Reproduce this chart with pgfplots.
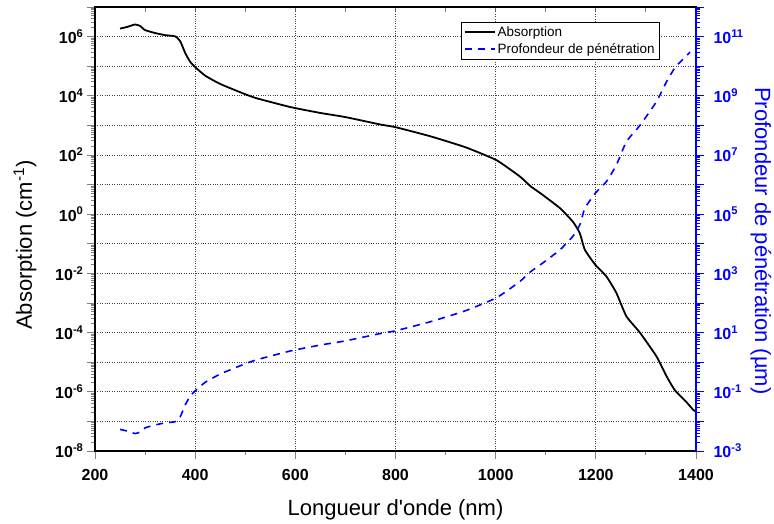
\documentclass[border=0pt]{standalone}
\usepackage{fontspec}
\setmainfont{Liberation Sans}
\usepackage{pgfplots}
\usepackage{pgfplotstable}
\pgfplotsset{compat=1.18}
\pgfplotstableread{
x y
250 1.86e6
265 2.14e6
280 2.57e6
290 2.29e6
300 1.66e6
320 1.32e6
340 1.12e6
360 1.02e6
370 7.08e5
380 2.82e5
390 1.41e5
400 9.33e4
420 4.79e4
450 2.51e4
490 1.32e4
520 8.51e3
590 4.17e3
650 2.63e3
700 1.91e3
770 1.07e3
800 871
870 427
940 182
1000 69.2
1030 31.6
1050 17.8
1070 8.71
1090 5.01
1128 1.62
1154 0.562
1168 0.229
1178 0.0631
1199 0.0195
1221 7.94e-3
1241 2.19e-3
1261 3.55e-4
1288 1.0e-4
1321 1.58e-5
1341 3.39e-6
1358 1.12e-6
1381 4.47e-7
1395 2.40e-7
1400 2.19e-7
}\absdata
\pgfplotstableread{
x y
250 5.37e-3
265 4.68e-3
280 3.89e-3
290 4.37e-3
300 6.03e-3
320 7.59e-3
340 8.91e-3
360 9.77e-3
370 1.41e-2
380 3.55e-2
390 7.08e-2
400 0.107
420 0.209
450 0.398
490 0.759
520 1.17
590 2.40
650 3.80
700 5.25
770 9.33
800 11.5
870 23.4
940 55.0
1000 145
1030 316
1050 562
1070 1.15e3
1090 2.00e3
1128 6.17e3
1154 1.78e4
1168 4.37e4
1178 1.58e5
1199 5.13e5
1221 1.26e6
1241 4.57e6
1261 2.82e7
1288 1.0e8
1321 6.31e8
1341 2.95e9
1358 8.91e9
1381 2.24e10
1388 3.0e10
}\depdata
\edef\minorA{2e-8}
\foreach \e in {-8,...,6}{\foreach \m in {2,...,9}{\xdef\minorA{\minorA,\m e\e}}}
\edef\minorB{2e-3}
\foreach \e in {-3,...,11}{\foreach \m in {2,...,9}{\xdef\minorB{\minorB,\m e\e}}}
\newcommand\evenlab{\pgfmathtruncatemacro\ee{round(\tick)}\ifodd\ee\relax\else\textbf{10\textsuperscript{\ee}}\fi}
\newcommand\oddlab{\pgfmathtruncatemacro\ee{round(\tick)}\ifodd\ee\relax\textbf{10\textsuperscript{\ee}}\fi}
\pgfplotsset{
  common/.style={
    width=601pt, height=444pt, scale only axis,
    xmin=200, xmax=1400,
    at={(0,0)}, anchor=south west,
    every tick label/.append style={font=\fontsize{16}{18}\selectfont\bfseries},
    label style={font=\fontsize{22}{25}\selectfont},
    major tick length=8pt, minor tick length=4pt,
    axis line style={line width=1.1pt},
    every tick/.append style={line width=0.9pt},
  },
}
\begin{document}
\begin{tikzpicture}
% top ticks (inside)
\begin{axis}[common,
  axis x line*=top, axis y line=none,
  ymode=log, ymin=1e-8, ymax=1e7,
  xtick={200,300,...,1400}, xticklabels={},
  tick align=inside, major tick length=5pt,
]
\end{axis}
\begin{axis}[common,
  ymode=log, log basis y=10,
  ymin=1e-8, ymax=1e7,
  xtick={200,400,...,1400}, minor xtick={300,500,...,1300},
  xtick pos=bottom, ytick pos=left,
  tick align=outside,
  ytick={1e-8,1e-7,1e-6,1e-5,1e-4,1e-3,1e-2,1e-1,1,1e1,1e2,1e3,1e4,1e5,1e6,1e7},
  minor ytick/.expanded={\minorA},
  yticklabel={\evenlab},
  xticklabel style={font=\fontsize{16}{18}\selectfont\bfseries, /pgf/number format/assume math mode=true, /pgf/number format/1000 sep={}, yshift=-7pt},
  grid=major,
  major grid style={dotted, line width=0.9pt, black!75},
  xlabel={Longueur d\textquotesingle onde (nm)},
  ylabel={Absorption (cm\textsuperscript{-1})},
  xlabel style={at={(axis description cs:0.5,0)}, anchor=center, yshift=-59pt},
  ylabel style={at={([xshift=-70pt]axis description cs:0,0.464)}, anchor=center},
  legend style={at={(axis description cs:0.609,0.966)}, anchor=north west,
    font=\fontsize{13.5}{16}\selectfont,
    row sep=1pt, inner sep=2.5pt},
  legend cell align=left,
  legend image code/.code={\draw[#1] (0pt,0pt) -- (30pt,0pt);},
]
\addplot[black, line width=1.8pt, smooth, tension=0.3, forget plot] table[x=x,y=y] {\absdata};
\addlegendimage{black, line width=2pt}
\addlegendentry{Absorption}
\addlegendimage{blue, line width=1.6pt, dash pattern=on 7pt off 6pt}
\addlegendentry{Profondeur de pénétration}
\end{axis}
\begin{axis}[common,
  axis x line=none, axis y line*=right,
  ymode=log, log basis y=10,
  ymin=1e-3, ymax=1e12,
  tick align=outside,
  ytick={1e-3,1e-2,1e-1,1,1e1,1e2,1e3,1e4,1e5,1e6,1e7,1e8,1e9,1e10,1e11,1e12},
  minor ytick/.expanded={\minorB},
  yticklabel={\oddlab},
  y axis line style={blue, line width=1.1pt},
  ytick style={blue},
  yticklabel style={blue, xshift=6pt},
  ylabel={Profondeur de pénétration (µm)},
  ylabel style={blue, at={([xshift=65pt]axis description cs:1,0.473)}, anchor=center, rotate=180},
]
\addplot[blue, line width=1.6pt, dash pattern=on 7pt off 6pt, smooth, tension=0.3] table[x=x,y=y] {\depdata};
\end{axis}
\pgfresetboundingbox
\path[use as bounding box] (-95pt,-73pt) rectangle (679pt,451pt);
\end{tikzpicture}
\end{document}
